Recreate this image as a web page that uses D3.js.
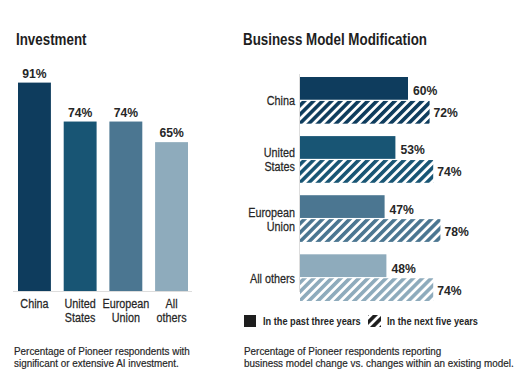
<!DOCTYPE html>
<html>
<head>
<meta charset="utf-8">
<script src="https://cdn.jsdelivr.net/npm/d3@7"></script>
<style>
  body { margin: 0; background: #fff; }
  svg { display: block; font-family: "Liberation Sans", Arial, sans-serif; }
  .title { font-size: 16.5px; font-weight: bold; fill: #1e1e1e; }
  .val { font-size: 13.5px; font-weight: bold; fill: #262626; }
  .cat { font-size: 13.5px; fill: #262626; stroke: #262626; stroke-width: 0.25px; }
  .cap { font-size: 11.5px; fill: #262626; stroke: #262626; stroke-width: 0.2px; }
  .leg { font-size: 11.5px; font-weight: bold; fill: #262626; }
</style>
</head>
<body>
<script>
// Données
const regions = ["China", "United States", "European Union", "All others"];
const regionLines = [["China"], ["United", "States"], ["European", "Union"], ["All", "others"]];
const regionLinesRight = [["China"], ["United", "States"], ["European", "Union"], ["All others"]];
const regionColors = ["#0e3c5d", "#185574", "#4b7691", "#8eabbc"];
const investment = [91, 74, 74, 65];
const pastThree = [60, 53, 47, 48];
const nextFive = [72, 74, 78, 74];
const seriesNames = ["In the past three years", "In the next five years"];

const width = 523, height = 389;

// Compression horizontale pour imiter une police condensée
const squeeze = { title: 0.81, val: 0.9, cat: 0.8, cap: 0.86, leg: 0.8 };

const svg = d3.select("body").append("svg")
  .attr("width", width)
  .attr("height", height);

function addText(parent, x, y, lines, cls, anchor = "start", lineH = 14) {
  const t = parent.append("text")
    .attr("class", cls)
    .attr("text-anchor", anchor)
    .attr("transform", `translate(${x},${y}) scale(${squeeze[cls]},1)`);
  lines.forEach((l, j) => t.append("tspan")
    .attr("x", 0)
    .attr("y", j * lineH)
    .text(l));
  return t;
}

// Motifs hachurés
const defs = svg.append("defs");
function hatch(id, color) {
  const p = defs.append("pattern")
    .attr("id", id)
    .attr("patternUnits", "userSpaceOnUse")
    .attr("width", 6.4)
    .attr("height", 6.4)
    .attr("patternTransform", "rotate(45)");
  p.append("rect").attr("width", 6.4).attr("height", 6.4).attr("fill", "#fff");
  p.append("rect").attr("width", 3.6).attr("height", 6.4).attr("fill", color);
}
regionColors.forEach((c, i) => hatch("hatch" + i, c));
hatch("hatchLeg", "#1e1e1e");

// ---- Graphique de gauche : Investment
addText(svg, 16, 45, ["Investment"], "title");

const xL = d3.scaleBand().domain(regions).range([18, 188]).paddingInner(0.28);
const yL = d3.scaleLinear().domain([0, 100]).range([291, 62]);

svg.append("line")
  .attr("x1", 13).attr("x2", 192)
  .attr("y1", yL(0) + 0.5).attr("y2", yL(0) + 0.5)
  .attr("stroke", "#ddd");

svg.selectAll(".barL").data(investment).join("rect")
  .attr("x", (d, i) => xL(regions[i]))
  .attr("y", d => yL(d))
  .attr("width", xL.bandwidth())
  .attr("height", d => yL(0) - yL(d))
  .attr("fill", (d, i) => regionColors[i]);

investment.forEach((d, i) => {
  const cx = xL(regions[i]) + xL.bandwidth() / 2;
  addText(svg, cx, yL(d) - 5, [d + "%"], "val", "middle");
  addText(svg, cx, 308, regionLines[i], "cat", "middle", 14);
});

addText(svg, 14, 355, ["Percentage of Pioneer respondents with",
  "significant or extensive AI investment."], "cap", "start", 12.5);

// ---- Graphique de droite : Business Model Modification
addText(svg, 243, 45, ["Business Model Modification"], "title");

const yR = d3.scaleBand().domain(regions).range([77, 301]).paddingInner(0.21).paddingOuter(0).align(0);
const ySub = d3.scaleBand().domain([0, 1]).range([0, yR.bandwidth()]).paddingInner(0.05);
const xR = d3.scaleLinear().domain([0, 100]).range([300, 480]);

svg.append("line")
  .attr("x1", 299.5).attr("x2", 299.5)
  .attr("y1", 74).attr("y2", 292)
  .attr("stroke", "#ddd");

const groups = svg.selectAll(".grp").data(regions).join("g")
  .attr("transform", d => `translate(0,${yR(d)})`);

groups.append("rect")
  .attr("x", xR(0))
  .attr("y", ySub(0))
  .attr("width", (d, i) => xR(pastThree[i]) - xR(0))
  .attr("height", ySub.bandwidth())
  .attr("fill", (d, i) => regionColors[i]);

groups.append("rect")
  .attr("x", xR(0))
  .attr("y", ySub(1))
  .attr("width", (d, i) => xR(nextFive[i]) - xR(0))
  .attr("height", ySub.bandwidth())
  .attr("fill", (d, i) => `url(#hatch${i})`);

groups.each(function(d, i) {
  const g = d3.select(this);
  addText(g, xR(pastThree[i]) + 5, ySub(0) + ySub.bandwidth() / 2 + 7, [pastThree[i] + "%"], "val");
  addText(g, xR(nextFive[i]) + 4, ySub(1) + ySub.bandwidth() / 2 + 5, [nextFive[i] + "%"], "val");
  const lines = regionLinesRight[i];
  const y0 = yR.bandwidth() / 2 + 5 - (lines.length - 1) * 7;
  addText(g, 295, y0, lines, "cat", "end", 14);
});

// Légende
svg.append("rect").attr("x", 244).attr("y", 315).attr("width", 12).attr("height", 12).attr("fill", "#1e1e1e");
addText(svg, 263, 325, [seriesNames[0]], "leg");
svg.append("rect").attr("x", 368).attr("y", 315).attr("width", 13).attr("height", 12).attr("fill", "url(#hatchLeg)");
addText(svg, 387, 325, [seriesNames[1]], "leg");

addText(svg, 244, 355, ["Percentage of Pioneer respondents reporting",
  "business model change vs. changes within an existing model."], "cap", "start", 12.5);
</script>
</body>
</html>
